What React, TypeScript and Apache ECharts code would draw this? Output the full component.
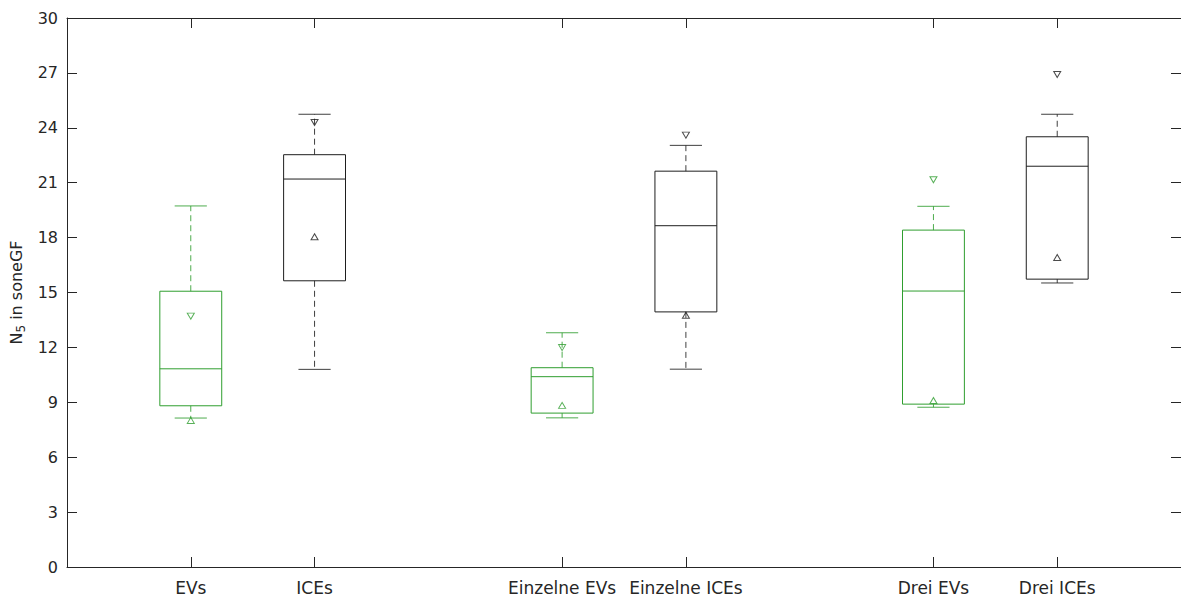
import React, { useEffect, useRef } from "react";
import * as echarts from "echarts";

const positions = [1, 2, 4, 5, 7, 8];
const categories = ["EVs", "ICEs", "Einzelne EVs", "Einzelne ICEs", "Drei EVs", "Drei ICEs"];
const lowerWhisker = [8.14, 10.8, 8.15, 10.81, 8.73, 15.52];
const q1 = [8.81, 15.64, 8.41, 13.94, 8.9, 15.73];
const median = [10.83, 21.2, 10.4, 18.65, 15.08, 21.9];
const q3 = [15.07, 22.53, 10.89, 21.63, 18.41, 23.51];
const upperWhisker = [19.73, 24.74, 12.8, 23.04, 19.71, 24.74];
const upMarker = [8.01, 18.05, 8.83, 13.76, 9.1, 16.91];
const downMarker = [13.71, 24.29, 11.99, 23.6, 21.16, 26.91];

const GREEN = "#2f9e2f";
const BLACK = "#1e1e1e";
const boxColors = [GREEN, BLACK, GREEN, BLACK, GREEN, BLACK];
const AXIS = "#262626";
const FONT = "DejaVu Sans";

export default function App() {
  const ref = useRef<HTMLDivElement>(null);
  useEffect(() => {
    if (!ref.current) return;
    const chart = echarts.init(ref.current, null, { renderer: "svg" });
    const boxData = positions.map((p, i) => [p, lowerWhisker[i], q1[i], median[i], q3[i], upperWhisker[i], i]);
    const markerData: any[] = [];
    positions.forEach((p, i) => {
      markerData.push({ value: [p, upMarker[i]], symbolRotate: 0, itemStyle: { borderColor: boxColors[i] } });
      markerData.push({ value: [p, downMarker[i]], symbolRotate: 180, itemStyle: { borderColor: boxColors[i] } });
    });
    const option: any = {
      animation: false,
      backgroundColor: "#ffffff",
      grid: { left: 67, top: 18, width: 1119, height: 553, containLabel: false },
      xAxis: [
        {
          type: "value",
          min: 0,
          max: 9,
          position: "bottom",
          axisLine: { show: true, onZero: false, lineStyle: { color: AXIS } },
          axisTick: { show: true, inside: true, length: 10, lineStyle: { color: AXIS }, customValues: positions },
          axisLabel: {
            customValues: positions,
            formatter: (v: number) => categories[positions.indexOf(v)] ?? "",
            fontFamily: FONT,
            fontSize: 17,
            color: AXIS,
            margin: 12,
          },
          splitLine: { show: false },
        },
        {
          type: "value",
          min: 0,
          max: 9,
          position: "top",
          axisLine: { show: true, onZero: false, lineStyle: { color: AXIS } },
          axisTick: { show: true, inside: true, length: 10, lineStyle: { color: AXIS }, customValues: positions },
          axisLabel: { show: false },
          splitLine: { show: false },
        },
      ],
      yAxis: [
        {
          type: "value",
          min: 0,
          max: 30,
          interval: 3,
          position: "left",
          axisLine: { show: true, onZero: false, lineStyle: { color: AXIS } },
          axisTick: { show: true, inside: true, length: 10, lineStyle: { color: AXIS } },
          axisLabel: { fontFamily: FONT, fontSize: 16, color: AXIS, margin: 9 },
          splitLine: { show: false },
          name: "{n|N}{s|5}{n| in soneGF}",
          nameLocation: "middle",
          nameRotate: 90,
          nameGap: 37,
          nameTextStyle: {
            fontFamily: FONT,
            color: AXIS,
            rich: {
              n: { fontFamily: FONT, fontSize: 16, color: AXIS, lineHeight: 20, verticalAlign: "middle" },
              s: { fontFamily: FONT, fontSize: 12, color: AXIS, lineHeight: 10, verticalAlign: "bottom" },
            },
          },
        },
        {
          type: "value",
          min: 0,
          max: 30,
          interval: 3,
          position: "right",
          axisLine: { show: true, onZero: false, lineStyle: { color: AXIS } },
          axisTick: { show: true, inside: true, length: 10, lineStyle: { color: AXIS } },
          axisLabel: { show: false },
          splitLine: { show: false },
        },
      ],
      series: [
        {
          type: "custom",
          xAxisIndex: 0,
          yAxisIndex: 0,
          clip: false,
          data: boxData,
          renderItem: (params: any, api: any) => {
            const x = api.value(0);
            const idx = api.value(6);
            const color = boxColors[idx];
            const lo = api.coord([x, api.value(1)]);
            const b = api.coord([x, api.value(2)]);
            const m = api.coord([x, api.value(3)]);
            const t = api.coord([x, api.value(4)]);
            const hi = api.coord([x, api.value(5)]);
            const half = api.size([0.25, 0])[0];
            const capHalf = api.size([0.13, 0])[0];
            const cx = lo[0];
            const solid = { stroke: color, lineWidth: 1, fill: null };
            const dashed = { stroke: color, lineWidth: 1, lineDash: [6, 4], fill: null, opacity: 0.85 };
            return {
              type: "group",
              children: [
                { type: "line", shape: { x1: cx, y1: t[1], x2: cx, y2: hi[1] }, style: dashed },
                { type: "line", shape: { x1: cx, y1: b[1], x2: cx, y2: lo[1] }, style: dashed },
                { type: "line", shape: { x1: cx - capHalf, y1: hi[1], x2: cx + capHalf, y2: hi[1] }, style: { ...solid, opacity: 0.85 } },
                { type: "line", shape: { x1: cx - capHalf, y1: lo[1], x2: cx + capHalf, y2: lo[1] }, style: { ...solid, opacity: 0.85 } },
                { type: "rect", shape: { x: cx - half, y: t[1], width: 2 * half, height: b[1] - t[1] }, style: { stroke: color, lineWidth: 1, fill: "none" } },
                { type: "line", shape: { x1: cx - half, y1: m[1], x2: cx + half, y2: m[1] }, style: solid },
              ],
            };
          },
          z: 2,
        },
        {
          type: "scatter",
          xAxisIndex: 0,
          yAxisIndex: 0,
          symbol: "triangle",
          symbolSize: [7, 6],
          itemStyle: { color: "rgba(255,255,255,0)", borderWidth: 1 },
          data: markerData,
          z: 3,
        },
      ],
    };
    chart.setOption(option);
    return () => chart.dispose();
  }, []);
  return (
    <div
      ref={ref}
      style={{ position: "fixed", left: 0, top: 0, width: 1181, height: 596, background: "#fff" }}
    />
  );
}
